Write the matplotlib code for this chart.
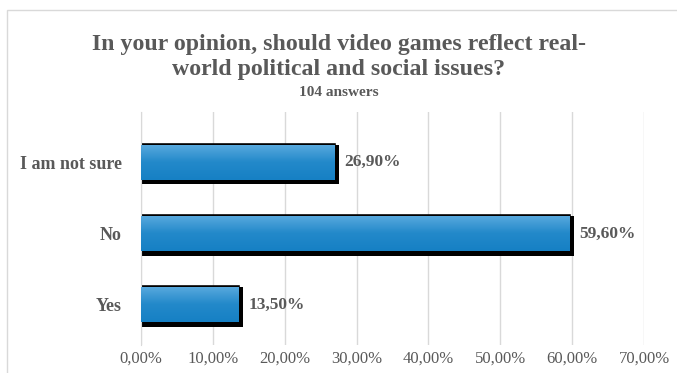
import numpy as np
import matplotlib
matplotlib.use("Agg")
import matplotlib.pyplot as plt
import matplotlib.patheffects as pe
from matplotlib.patches import Rectangle
from matplotlib.ticker import FuncFormatter

categories = ["Yes", "No", "I am not sure"]
shares = [13.5, 59.6, 26.9]
xticks = [0, 10, 20, 30, 40, 50, 60, 70]

title = "In your opinion, should video games reflect real-\nworld political and social issues?"
subtitle = "104 answers"

plt.rcParams["font.family"] = ["Liberation Serif", "DejaVu Serif"]
grey = "#595959"

W, H = 677, 373
fig = plt.figure(figsize=(W / 100, H / 100), dpi=100)
ax = fig.add_axes([141 / W, (H - 345) / H, (644 - 141) / W, (345 - 112) / H])

# light frame around the chart area
fig.patches.append(Rectangle((7 / W, -0.01), 1.0, (H - 10) / H + 0.01,
                             transform=fig.transFigure, fill=False,
                             edgecolor="#d9d9d9", linewidth=1.0))

ypos = np.arange(len(categories))
bar_h = 0.49

# black bars with a heavy shadow (down and right), blue gradient on top
shadow = [pe.SimplePatchShadow(offset=off, shadow_rgbFace="black", alpha=1.0)
          for off in [(0, -3.4), (3.4, -3.4), (3.4, 0)]]
bars = ax.barh(ypos, shares, height=bar_h, color="black", edgecolor="black",
               linewidth=2.6, zorder=2, path_effects=shadow + [pe.Normal()])

grad = np.linspace(0, 1, 64).reshape(-1, 1)
cmap = matplotlib.colors.LinearSegmentedColormap.from_list("bl", ["#5aaade", "#2389ca", "#1680c4"])
for b in bars:
    x0, y0 = b.get_x(), b.get_y()
    im = ax.imshow(grad, cmap=cmap, aspect="auto", zorder=3,
                   extent=(x0, x0 + b.get_width(), y0, y0 + b.get_height()),
                   interpolation="bicubic")
    im.set_clip_path(b)

for y, v in zip(ypos, shares):
    ax.text(v + 1.45, y, f"{v:.2f}%".replace(".", ","), va="center", ha="left",
            fontsize=12.5, fontweight="bold", color=grey, zorder=5)

ax.set_xlim(0, 70)
ax.set_ylim(-0.56, 2.70)
ax.set_xticks(xticks)
ax.xaxis.set_major_formatter(FuncFormatter(lambda v, p: f"{v:.2f}%".replace(".", ",")))
ax.set_yticks(ypos)
ax.set_yticklabels(categories, fontweight="bold")
ax.tick_params(axis="both", length=0, labelsize=12, colors=grey)
ax.tick_params(axis="x", pad=4)
ax.tick_params(axis="y", labelsize=13, pad=14)
ax.grid(axis="x", color="#d9d9d9", linewidth=1.0, zorder=0)
ax.set_axisbelow(True)
for s in ["top", "right", "bottom"]:
    ax.spines[s].set_visible(False)
ax.spines["left"].set_color("#d9d9d9")

fig.text(0.5, (H - 57) / H, title, ha="center", va="center", fontsize=17.2,
         fontweight="bold", color=grey, linespacing=1.25)
fig.text(0.5, (H - 93) / H, subtitle, ha="center", va="center", fontsize=11,
         fontweight="bold", color=grey)

fig.savefig("out.png", dpi=100)
